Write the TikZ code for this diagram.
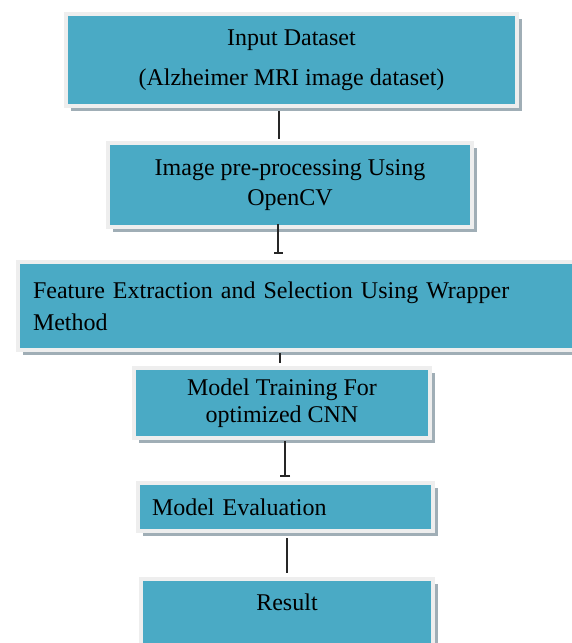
\documentclass[tikz,border=0pt]{standalone}
\usepackage{fontspec}
\setmainfont{Liberation Serif}
\usetikzlibrary{arrows.meta,shadows}

\definecolor{boxteal}{RGB}{74,170,197}
\definecolor{boxrim}{RGB}{238,238,238}
\definecolor{boxshade}{RGB}{160,174,182}

\tikzset{
    flowbox/.style={rectangle, anchor=north west, fill=boxteal, draw=boxrim,
        line width=4pt, inner sep=0pt, align=center,
        drop shadow={shadow xshift=5pt, shadow yshift=-5pt, fill=boxshade, opacity=1},
        font=\fontsize{24}{29}\selectfont},
    link/.style={line width=1.2pt, draw=black!85}
}

\begin{document}
\begin{tikzpicture}[x=1pt,y=-1pt,>=Latex]
        \useasboundingbox (0,0) rectangle (571,643);

        \node[flowbox, minimum width=451pt, minimum height=92pt] (input) at (64,12)
            {Input Dataset\\[11pt](Alzheimer MRI image dataset)};
        \node[flowbox, minimum width=364pt, minimum height=84pt] (prep) at (106,141)
            {Image pre-processing Using\\[1pt]OpenCV};
        \node[flowbox, minimum width=559pt, minimum height=88pt, align=left,
              inner xsep=15pt, text width=529pt] (feat) at (16,260)
            {Feature Extraction and Selection Using Wrapper\\[3pt]Method};
        \node[flowbox, minimum width=296pt, minimum height=70pt] (train) at (132,366)
            {Model Training For\\[-2pt]optimized CNN};
        \node[flowbox, minimum width=295pt, minimum height=48pt, align=left,
              inner xsep=14pt, text width=267pt] (eval) at (136,481)
            {Model Evaluation};
        \node[flowbox, minimum width=292pt, inner ysep=14pt,
              text height=17pt, text depth=80pt] (result) at (139,577)
            {Result};

        \draw[link, shorten <=3pt, shorten >=2pt]
            ([xshift=-12.5pt]input.south) -- ([xshift=-11pt]prep.north);
        \draw[link, -{Bar[width=9pt,line width=1.6pt]}, shorten <=-5pt, shorten >=6pt]
            ([xshift=-12pt]prep.south) -- ([xshift=-19.5pt]feat.north);
        \draw[link, shorten <=1pt, shorten >=3pt]
            ([xshift=-17.5pt]feat.south) -- ([xshift=-2pt]train.north);
        \draw[link, -{Bar[width=10pt,line width=2.4pt]}, shorten <=1pt, shorten >=4pt]
            ([xshift=3pt]train.south) -- ([xshift=-0.5pt]eval.north);
        \draw[link, shorten <=5pt, shorten >=4pt]
            ([xshift=1.5pt]eval.south) -- (result.north);
\end{tikzpicture}
\end{document}
